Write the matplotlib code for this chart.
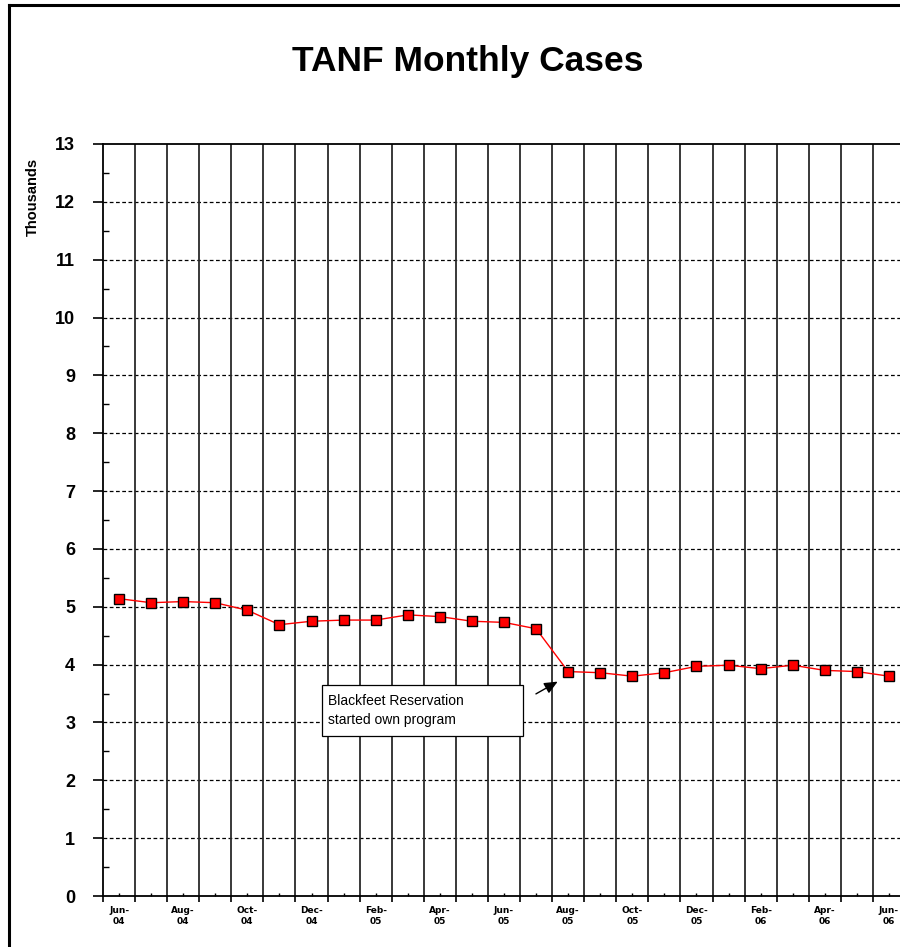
import numpy as np
import matplotlib.pyplot as plt
from matplotlib.patches import Rectangle

# monthly TANF cases (thousands), Jun-04 .. Jun-06
months = ["Jun-04", "Jul-04", "Aug-04", "Sep-04", "Oct-04", "Nov-04", "Dec-04",
          "Jan-05", "Feb-05", "Mar-05", "Apr-05", "May-05", "Jun-05", "Jul-05",
          "Aug-05", "Sep-05", "Oct-05", "Nov-05", "Dec-05", "Jan-06", "Feb-06",
          "Mar-06", "Apr-06", "May-06", "Jun-06"]
cases = [5.14, 5.07, 5.09, 5.07, 4.94, 4.69, 4.75, 4.77, 4.77, 4.86, 4.83,
         4.75, 4.73, 4.62, 3.88, 3.86, 3.80, 3.86, 3.97, 3.99, 3.93, 3.99,
         3.90, 3.88, 3.80]
yticks = list(range(0, 14))
note = "Blackfeet Reservation\nstarted own program"

plt.rcParams['font.family'] = ['Liberation Sans', 'DejaVu Sans']

fig = plt.figure(figsize=(9, 9.47), dpi=100)
W, H = 900, 947
ax = fig.add_axes([103 / W, 1 - 896 / H, 802 / W, 752 / H])

x = np.arange(len(months))
ax.plot(x, cases, color='red', lw=1, marker='s', markersize=7.8,
        markerfacecolor='red', markeredgecolor='black', markeredgewidth=1,
        zorder=5)

ax.set_xlim(-0.5, len(months) - 0.5)
ax.set_ylim(0, 13)

# horizontal dashed gridlines
for v in yticks[1:-1]:
    ax.axhline(v, color='black', lw=0.9, ls=(0, (3, 2)), zorder=1)
# vertical solid gridlines at category boundaries
for b in np.arange(0.5, len(months) - 0.5, 1):
    ax.axvline(b, color='#2a2a2a', lw=1.3, zorder=1)

ax.set_yticks(yticks)
ax.set_yticklabels([str(v) for v in yticks], fontsize=13, fontweight='bold')
ax.set_yticks(np.arange(0.5, 13, 1), minor=True)
ax.tick_params(axis='y', which='major', direction='out', length=7, width=1.2, pad=13)
ax.tick_params(axis='y', which='minor', direction='in', length=4, width=1)

ax.set_xticks(np.arange(-0.5, len(months), 1))
ax.set_xticklabels([])
ax.set_xticks(x, minor=True)
ax.set_xticklabels([m.replace("-", "-\n") if i % 2 == 0 else "" for i, m in enumerate(months)],
                   minor=True, fontsize=6.5, family='DejaVu Sans', fontweight='bold',
                   linespacing=1.3)
ax.tick_params(axis='x', which='major', direction='out', length=4, width=1.2)
ax.tick_params(axis='x', which='minor', direction='in', length=2, width=1, pad=7)

for s in ['left', 'bottom', 'top']:
    ax.spines[s].set_linewidth(1.3)
ax.spines['right'].set_visible(False)

# annotation box and arrow
ax.add_patch(Rectangle((6.33, 2.77), 6.27, 0.87, facecolor='white',
                       edgecolor='black', lw=0.9, zorder=6))
ax.text(6.5, 3.2, note, fontsize=10, va='center', ha='left',
        linespacing=1.45, zorder=7)
ax.annotate("", xy=(13.75, 3.73), xytext=(12.92, 3.47),
            arrowprops=dict(arrowstyle='-|>,head_length=0.8,head_width=0.35',
                            color='black', lw=1), zorder=7)

fig.text(468 / W, 1 - 62 / H, "TANF Monthly Cases", fontsize=25.5,
         fontweight='bold', ha='center', va='center')
fig.text(33 / W, 1 - 197 / H, "Thousands", fontsize=10.5, fontweight='bold',
         rotation=90, ha='center', va='center')

# chart area border
fig.add_artist(plt.Line2D([9 / W, 9 / W], [0, 1 - 5 / H], color='black', lw=2.2,
                          transform=fig.transFigure))
fig.add_artist(plt.Line2D([9 / W, 1], [1 - 5 / H, 1 - 5 / H], color='black', lw=2.2,
                          transform=fig.transFigure))

fig.savefig("out.png", dpi=100)
